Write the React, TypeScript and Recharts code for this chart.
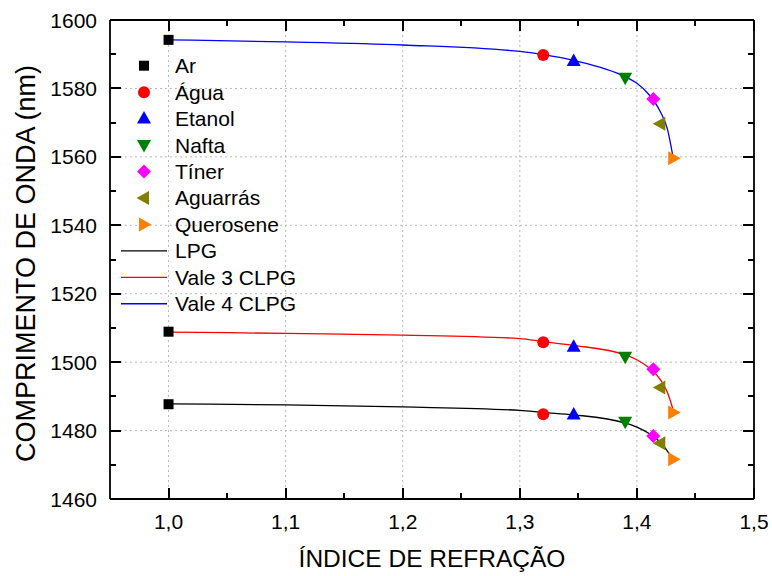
import React from 'react';
import { ComposedChart, Scatter, Line, XAxis, YAxis, CartesianGrid } from 'recharts';

// ---------- data ----------
const liquids = ['Ar', 'Água', 'Etanol', 'Nafta', 'Tíner', 'Aguarrás', 'Querosene'];
const refIndex = [1.0, 1.32, 1.346, 1.39, 1.414, 1.42, 1.431];
const lpgPts = [1487.7, 1484.8, 1484.7, 1482.6, 1478.4, 1476.3, 1471.6];
const vale3Pts = [1508.9, 1505.8, 1504.5, 1501.6, 1497.9, 1492.6, 1485.3];
const vale4Pts = [1594.2, 1589.8, 1588.0, 1583.1, 1576.9, 1569.7, 1559.6];

const fitNames = ['LPG', 'Vale 3 CLPG', 'Vale 4 CLPG'];
const fitX = [1.0, 1.1, 1.2, 1.3, 1.32, 1.346, 1.39, 1.4, 1.41, 1.42, 1.426, 1.431];
const fitLPG = [1487.8, 1487.5, 1486.9, 1485.9, 1485.3, 1484.6, 1482.2, 1481.0, 1479.2, 1476.6, 1474.0, 1471.6];
const fitVale3 = [1508.8, 1508.4, 1507.9, 1506.9, 1506.0, 1504.9, 1502.1, 1500.7, 1498.4, 1494.9, 1491.2, 1486.0];
const fitVale4 = [1594.2, 1593.6, 1592.7, 1590.8, 1589.9, 1588.2, 1583.4, 1581.5, 1578.3, 1573.2, 1568.2, 1559.7];

const xDomain = [0.95, 1.5];
const yDomain = [1460, 1600];
const xTicks = [1.0, 1.05, 1.1, 1.15, 1.2, 1.25, 1.3, 1.35, 1.4, 1.45, 1.5];
const yTicks = [1460, 1470, 1480, 1490, 1500, 1510, 1520, 1530, 1540, 1550, 1560, 1570, 1580, 1590, 1600];
const xGrid = [1.0, 1.1, 1.2, 1.3, 1.4];
const yGrid = [1480, 1500, 1520, 1540, 1560, 1580];

// ---------- layout / styles ----------
const W = 772;
const H = 576;
const MARGIN = { top: 19, right: 17, bottom: 0, left: 0 };
const Y_AXIS_W = 110;
const X_AXIS_H = 77;
const PLOT = {
  left: MARGIN.left + Y_AXIS_W,
  top: MARGIN.top + 1,
  right: W - MARGIN.right - 1,
  bottom: H - MARGIN.bottom - X_AXIS_H,
};
const FONT = 'Arial, "Liberation Sans", Helvetica, sans-serif';
const markerColors = ['#000000', '#FF0000', '#0000FF', '#008000', '#FF00FF', '#808000', '#FF8000'];
const markerKinds = ['square', 'circle', 'up', 'down', 'diamond', 'left', 'right'];
const fitColors = ['#000000', '#FF0000', '#0000FF'];

const scatterData = liquids.map((_, i) => [
  { x: refIndex[i], y: lpgPts[i] },
  { x: refIndex[i], y: vale3Pts[i] },
  { x: refIndex[i], y: vale4Pts[i] },
]);
const fitSeries = [fitLPG, fitVale3, fitVale4].map((arr) => fitX.map((x, i) => ({ x, y: arr[i] })));

function markerShape(kind: string, cx: number, cy: number, color: string) {
  switch (kind) {
    case 'square':
      return <rect x={cx - 5} y={cy - 5} width={10} height={10} fill={color} />;
    case 'circle':
      return <circle cx={cx} cy={cy} r={6} fill={color} />;
    case 'up':
      return <polygon points={`${cx},${cy - 7.5} ${cx - 7},${cy + 5} ${cx + 7},${cy + 5}`} fill={color} />;
    case 'down':
      return <polygon points={`${cx},${cy + 7.5} ${cx - 7},${cy - 5} ${cx + 7},${cy - 5}`} fill={color} />;
    case 'diamond':
      return <polygon points={`${cx},${cy - 7} ${cx + 7},${cy} ${cx},${cy + 7} ${cx - 7},${cy}`} fill={color} />;
    case 'left':
      return <polygon points={`${cx - 7.5},${cy} ${cx + 5},${cy - 7} ${cx + 5},${cy + 7}`} fill={color} />;
    case 'right':
    default:
      return <polygon points={`${cx + 7.5},${cy} ${cx - 5},${cy - 7} ${cx - 5},${cy + 7}`} fill={color} />;
  }
}

const isMajorX = (v: number) => Math.abs(v * 10 - Math.round(v * 10)) < 1e-6;
const isMajorY = (v: number) => Math.round(v) % 20 === 0;

const BottomTick = (props: any) => {
  const x = Number(props.x);
  const y = Number(props.y);
  const v = props.payload.value;
  if (!isMajorX(v)) return <g />;
  return (
    <text x={x} y={y + 29.5} textAnchor="middle" fontSize={21} fontFamily={FONT} fill="#000" stroke="none">
      {Number(v).toFixed(1).replace('.', ',')}
    </text>
  );
};
const LeftTick = (props: any) => {
  const x = Number(props.x);
  const y = Number(props.y);
  const v = props.payload.value;
  if (!isMajorY(v)) return <g />;
  return (
    <text x={x - 13} y={y + 7.5} textAnchor="end" fontSize={21} fontFamily={FONT} fill="#000" stroke="none">
      {v}
    </text>
  );
};

const XTitle = (props: any) => {
  const vb = props.viewBox || { x: 110, y: 499, width: 644, height: 77 };
  return (
    <text x={vb.x + vb.width / 2} y={vb.y + 68} textAnchor="middle" fontSize={24.5} fontFamily={FONT} fill="#000">
      ÍNDICE DE REFRAÇÃO
    </text>
  );
};
const YTitle = (props: any) => {
  const vb = props.viewBox || { x: 0, y: 20, width: 110, height: 479 };
  const cx = vb.x + 26;
  const cy = vb.y + vb.height / 2 + 4;
  return (
    <text
      x={cx}
      y={cy}
      transform={`rotate(-90 ${cx} ${cy})`}
      textAnchor="middle"
      dominantBaseline="central"
      fontSize={27}
      fontFamily={FONT}
      fill="#000"
    >
      COMPRIMENTO DE ONDA (nm)
    </text>
  );
};

// inward tick marks on all four sides of the frame (filled rectangles, crisp)
const TickMarks = () => {
  const sx = (v: number) => PLOT.left + ((v - xDomain[0]) / (xDomain[1] - xDomain[0])) * (PLOT.right - PLOT.left);
  const sy = (v: number) => PLOT.bottom - ((v - yDomain[0]) / (yDomain[1] - yDomain[0])) * (PLOT.bottom - PLOT.top);
  const t = 2;
  const items: any[] = [];
  xTicks.forEach((v, i) => {
    const len = isMajorX(v) ? 11 : 6;
    const x = Math.round(sx(v)) - 1;
    items.push(<rect key={'xb' + i} x={x} y={PLOT.bottom - len} width={t} height={len} fill="#000" />);
    items.push(<rect key={'xt' + i} x={x} y={PLOT.top} width={t} height={len} fill="#000" />);
  });
  yTicks.forEach((v, i) => {
    const len = isMajorY(v) ? 11 : 6;
    const y = Math.round(sy(v)) - 1;
    items.push(<rect key={'yl' + i} x={PLOT.left} y={y} width={len} height={t} fill="#000" />);
    items.push(<rect key={'yr' + i} x={PLOT.right - len} y={y} width={len} height={t} fill="#000" />);
  });
  return (
    <svg
      width={W}
      height={H}
      shapeRendering="crispEdges"
      style={{ position: 'absolute', left: 0, top: 0, overflow: 'visible', zIndex: 5 }}
    >
      {items}
    </svg>
  );
};

const LegendBox = () => {
  const rowH = 26.45;
  const top = 15.7;
  return (
    <svg width={260} height={275} style={{ position: 'absolute', left: 100, top: 50, overflow: 'visible', zIndex: 6 }}>
      {liquids.map((name, i) => {
        const cy = top + i * rowH;
        return (
          <g key={name}>
            {markerShape(markerKinds[i], 44, cy, markerColors[i])}
            <text x={75} y={cy + 7.5} fontSize={21} fontFamily={FONT} fill="#000">
              {name}
            </text>
          </g>
        );
      })}
      {fitNames.map((name, j) => {
        const cy = top + (liquids.length + j) * rowH;
        return (
          <g key={name}>
            <line x1={21} y1={cy} x2={67} y2={cy} stroke={fitColors[j]} strokeWidth={1.3} />
            <text x={75} y={cy + 7.5} fontSize={21} fontFamily={FONT} fill="#000">
              {name}
            </text>
          </g>
        );
      })}
    </svg>
  );
};

export default function App() {
  return (
    <div style={{ position: 'absolute', left: 0, top: 0, width: W, height: H, background: '#fff' }}>
      <ComposedChart width={W} height={H} margin={MARGIN}>
        <CartesianGrid
          stroke="#b8b8b8"
          strokeWidth={1}
          strokeDasharray="2 3"
          horizontalValues={yGrid}
          verticalValues={xGrid}
        />
        <XAxis
          type="number"
          dataKey="x"
          domain={xDomain}
          ticks={xTicks}
          interval={0}
          height={X_AXIS_H}
          tickSize={0}
          tickMargin={0}
          tickLine={false}
          tick={BottomTick}
          axisLine={{ stroke: '#000', strokeWidth: 1.8 }}
          label={<XTitle />}
        />
        <XAxis
          xAxisId="top"
          orientation="top"
          type="number"
          dataKey="x"
          domain={xDomain}
          ticks={xTicks}
          height={1}
          tick={false}
          tickLine={false}
          axisLine={{ stroke: '#000', strokeWidth: 1.8 }}
        />
        <YAxis
          type="number"
          domain={yDomain}
          ticks={yTicks}
          interval={0}
          width={Y_AXIS_W}
          tickSize={0}
          tickMargin={0}
          tickLine={false}
          tick={LeftTick}
          axisLine={{ stroke: '#000', strokeWidth: 1.8 }}
          label={<YTitle />}
        />
        <YAxis
          yAxisId="right"
          orientation="right"
          type="number"
          domain={yDomain}
          ticks={yTicks}
          width={1}
          tick={false}
          tickLine={false}
          axisLine={{ stroke: '#000', strokeWidth: 1.8 }}
        />
        {liquids.map((name, i) => (
          <Scatter
            key={name}
            name={name}
            data={scatterData[i]}
            dataKey="y"
            isAnimationActive={false}
            shape={(p: any) => markerShape(markerKinds[i], p.cx, p.cy, markerColors[i])}
          />
        ))}
        {fitNames.map((name, j) => (
          <Line
            key={name}
            name={name}
            data={fitSeries[j]}
            dataKey="y"
            type="monotone"
            stroke={fitColors[j]}
            strokeWidth={1.3}
            dot={false}
            activeDot={false}
            isAnimationActive={false}
          />
        ))}
      </ComposedChart>
      <TickMarks />
      <LegendBox />
    </div>
  );
}
